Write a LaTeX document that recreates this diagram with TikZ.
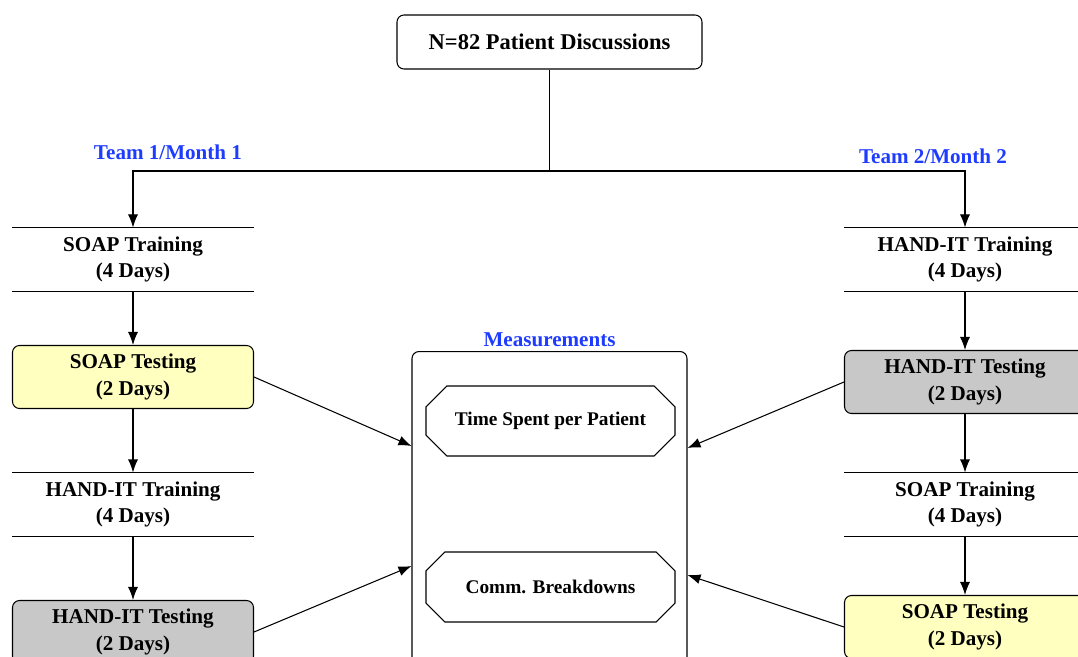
\documentclass[tikz,border=0pt]{standalone}
\usepackage{fontspec}
\setmainfont{Liberation Serif}
\usetikzlibrary{arrows.meta, shapes.misc}
\definecolor{soapyellow}{RGB}{255,255,192}
\definecolor{handgray}{RGB}{200,200,200}
\definecolor{teamblue}{RGB}{30,60,255}
\tikzset{
	stage/.style={minimum width=4.82cm, minimum height=1.26cm, align=center, inner sep=0pt, font=\bfseries\fontsize{12}{15}\selectfont},
	testbox/.style={stage, draw, rounded corners=4pt},
	measbox/.style={draw, chamfered rectangle, chamfered rectangle xsep=0.24cm, chamfered rectangle ysep=0.24cm, minimum width=4.98cm, minimum height=1.4cm, inner sep=0pt, font=\bfseries\fontsize{11}{13}\selectfont},
	teamlabel/.style={text=teamblue, font=\bfseries\large},
	pfeil/.style={-{Latex[length=2.6mm, width=2mm]}},
}
\begin{document}
\begin{tikzpicture}[line width=0.6pt]
	\useasboundingbox (0,0) rectangle (21.56,-13.14);
	\clip (0,0) rectangle (21.56,-13.14);
	% Kopf
	\node[draw, rounded corners=4pt, minimum width=6.1cm, minimum height=1.08cm, font=\bfseries\fontsize{12.8}{15}\selectfont] (top) at (10.99,-0.84) {N=82 Patient Discussions};
	\coordinate (split) at (10.99,-3.42);
	\node[teamlabel] (team1) at (3.36,-3.04) {Team 1/Month 1};
	\node[teamlabel] (team2) at (18.66,-3.12) {Team 2/Month 2};
	% Team 1
	\node[stage] (l1) at (2.66,-5.19) {SOAP Training\\(4 Days)};
	\node[testbox, fill=soapyellow] (l2) at (2.66,-7.54) {SOAP Testing\\(2 Days)};
	\node[stage] (l3) at (2.66,-10.09) {HAND-IT Training\\(4 Days)};
	\node[testbox, fill=handgray] (l4) at (2.66,-12.64) {HAND-IT Testing\\(2 Days)};
	% Team 2
	\node[stage] (r1) at (19.3,-5.19) {HAND-IT Training\\(4 Days)};
	\node[testbox, fill=handgray] (r2) at (19.3,-7.64) {HAND-IT Testing\\(2 Days)};
	\node[stage] (r3) at (19.3,-10.09) {SOAP Training\\(4 Days)};
	\node[testbox, fill=soapyellow] (r4) at (19.3,-12.54) {SOAP Testing\\(2 Days)};
	% Trainingslinien
	\foreach \t in {l1,l3,r1,r3}
		\draw (\t.north west) -- (\t.north east) (\t.south west) -- (\t.south east);
	% Messungen
	\node[draw, rounded corners=4pt, minimum width=5.5cm, minimum height=7cm, anchor=north,
		label={[teamlabel, yshift=-1pt]above:Measurements}] (meas) at (10.99,-7.02) {};
	\node[measbox] (time) at (11.01,-8.42) {Time Spent per Patient};
	\node[measbox] (comm) at (11.01,-11.74) {Comm. Breakdowns};
	% Verbindungen
	\draw (top) -- (split);
	\draw[pfeil] (split) -| (l1.north);
	\draw[pfeil] (split) -| (r1.north);
	\draw[pfeil] (l1) -- (l2);
	\draw[pfeil] (l2) -- (l3);
	\draw[pfeil] (l3) -- (l4);
	\draw[pfeil] (r1) -- (r2);
	\draw[pfeil] (r2) -- (r3);
	\draw[pfeil] (r3) -- (r4);
	\draw[pfeil] (l2.east) -- (meas.west |- 0,-8.92);
	\draw[pfeil] (l4.east) -- (meas.west |- 0,-11.32);
	\draw[pfeil] (r2.west) -- (meas.east |- 0,-8.96);
	\draw[pfeil] (r4.west) -- (meas.east |- 0,-11.5);
\end{tikzpicture}
\end{document}
